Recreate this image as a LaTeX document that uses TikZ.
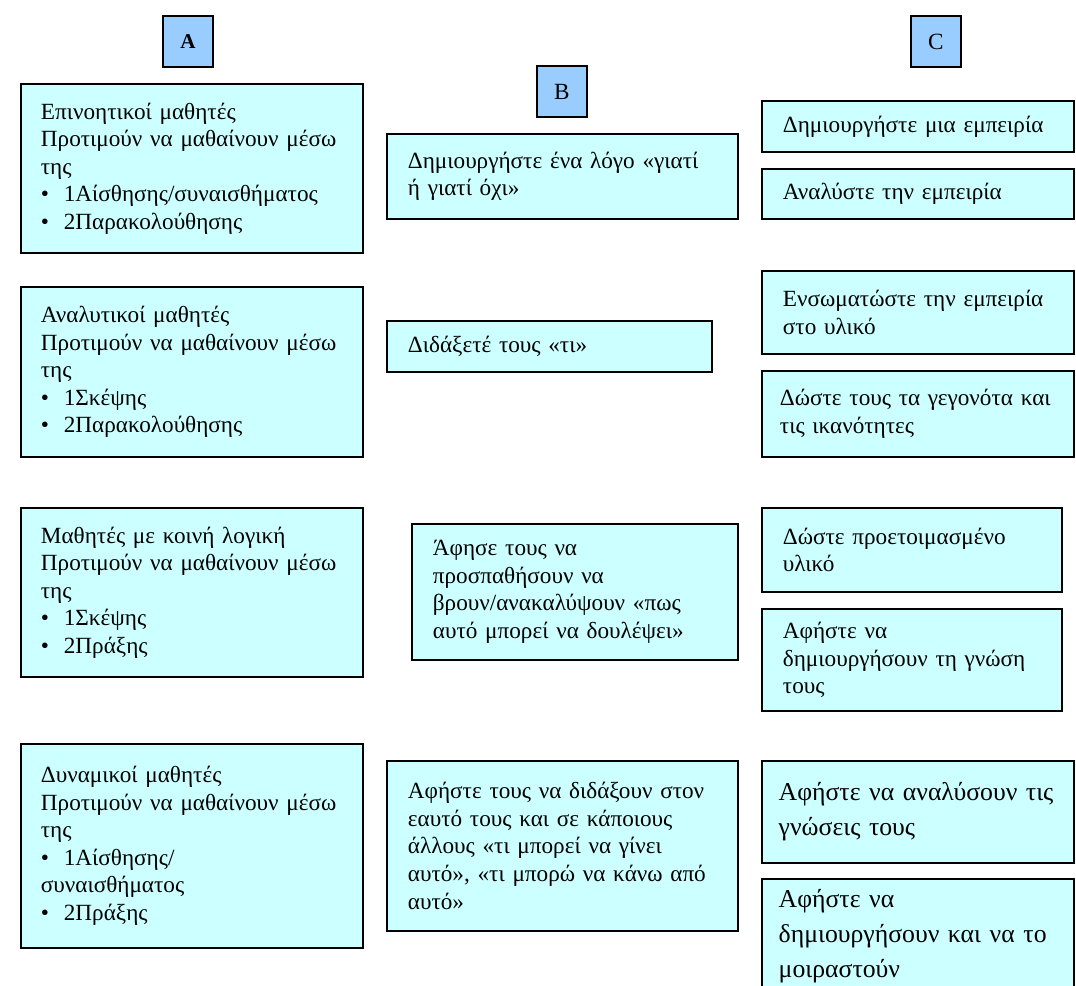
\documentclass[tikz,border=0pt]{standalone}
\usepackage{fontspec}
\setmainfont{Liberation Serif}
\definecolor{cellcyan}{HTML}{CCFFFF}
\definecolor{tagblue}{HTML}{99CCFF}
\newcommand{\bul}[1]{\mbox{\textbullet\hspace{0.37cm}}#1}
\tikzset{
  cellbox/.style={draw=black, fill=cellcyan, line width=1.3pt, anchor=north west,
    inner xsep=0.525cm, inner ysep=0pt, align=left, font=\fontsize{16.5}{19.6}\selectfont},
  cell/.code 2 args={\pgfmathsetlengthmacro\cellw{#1*0.025cm-2*\pgfkeysvalueof{/pgf/inner xsep}}%
    \tikzset{minimum width=#1*0.025cm, minimum height=#2*0.025cm, text width=\cellw}},
  coltag/.style={draw=black, fill=tagblue, line width=1.3pt, anchor=north west,
    minimum width=1.25cm, minimum height=1.28cm, inner sep=0pt, font=\fontsize{16.5}{19.6}\selectfont},
}
\begin{document}
\begin{tikzpicture}[x=0.025cm,y=-0.025cm]
  \useasboundingbox (0,0) rectangle (1076,985);

  \node[coltag] (tagA) at (162,15) {\fontsize{15}{18}\selectfont\bfseries A};
  \node[coltag] (tagB) at (536,65) {B};
  \node[coltag] (tagC) at (910,15) {C};

  \node[cellbox, inner xsep=0.5cm, cell={342}{169}] (inventive) at (20,83)
    {Επινοητικοί μαθητές\\Προτιμούν να μαθαίνουν μέσω\\της\\\bul{1Αίσθησης/συναισθήματος}\\\bul{2Παρακολούθησης}};
  \node[cellbox, inner xsep=0.5cm, cell={342}{170}] (analytic) at (20,286)
    {Αναλυτικοί μαθητές\\Προτιμούν να μαθαίνουν μέσω\\της\\\bul{1Σκέψης}\\\bul{2Παρακολούθησης}};
  \node[cellbox, inner xsep=0.5cm, cell={342}{169}] (commonsense) at (20,507)
    {Μαθητές με κοινή λογική\\Προτιμούν να μαθαίνουν μέσω\\της\\\bul{1Σκέψης}\\\bul{2Πράξης}};
  \node[cellbox, inner xsep=0.5cm, cell={342}{204}] (dynamic) at (20,743)
    {Δυναμικοί μαθητές\\Προτιμούν να μαθαίνουν μέσω\\της\\\bul{1Αίσθησης/}\\συναισθήματος\\\bul{2Πράξης}};

  \node[cellbox, cell={351}{85}] (why) at (386,133)
    {Δημιουργήστε ένα λόγο «γιατί\\ή γιατί όχι»};
  \node[cellbox, cell={325}{51}] (what) at (386,320)
    {Διδάξετέ τους «τι»};
  \node[cellbox, cell={326}{136}] (how) at (411,523)
    {Άφησε τους να\\προσπαθήσουν να\\βρουν/ανακαλύψουν «πως\\αυτό μπορεί να δουλέψει»};
  \node[cellbox, cell={351}{170}] (whatif) at (386,760)
    {Αφήστε τους να διδάξουν στον\\εαυτό τους και σε κάποιους\\άλλους «τι μπορεί να γίνει\\αυτό», «τι μπορώ να κάνω από\\αυτό»};

  \node[cellbox, cell={312}{51}] (create) at (761,100) {Δημιουργήστε μια εμπειρία};
  \node[cellbox, cell={312}{50}] (analyse) at (761,168) {Αναλύστε την εμπειρία};
  \node[cellbox, cell={312}{83}] (embed) at (761,270) {Ενσωματώστε την εμπειρία\\στο υλικό};
  \node[cellbox, inner xsep=0.45cm, cell={312}{86}] (facts) at (761,370) {Δώστε τους τα γεγονότα και\\τις ικανότητες};
  \node[cellbox, cell={300}{84}] (prepared) at (761,507) {Δώστε προετοιμασμένο\\υλικό};
  \node[cellbox, cell={300}{102}] (build) at (761,608) {Αφήστε να\\δημιουργήσουν τη γνώση\\τους};
  \node[cellbox, inner xsep=0.42cm, cell={312}{102}, font=\fontsize{18.3}{25}\selectfont] (review) at (761,760)
    {Αφήστε να αναλύσουν τις\\γνώσεις τους\par\vspace{0.35cm}};
  \node[cellbox, inner xsep=0.42cm, cell={312}{114}, font=\fontsize{18.3}{25}\selectfont] (share) at (761,878)
    {Αφήστε να\\δημιουργήσουν και να το\\μοιραστούν};
\end{tikzpicture}
\end{document}
